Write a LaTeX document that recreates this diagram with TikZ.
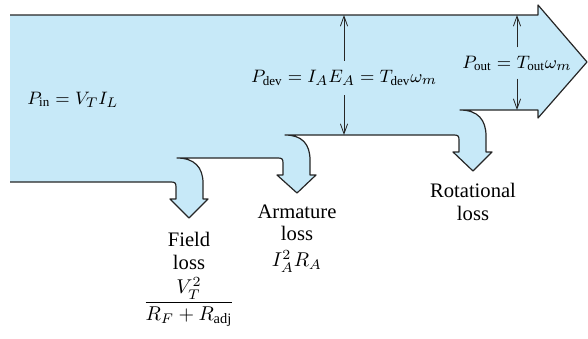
\documentclass[tikz,border=0pt]{standalone}
\usepackage{amsmath}
\usepackage{fontspec}
\setmainfont{Liberation Serif}
\usepackage{tikz}
\usetikzlibrary{arrows.meta,positioning}
\definecolor{cband}{HTML}{C7E9F8}
\definecolor{cline}{HTML}{262626}
\tikzset{
  band/.style={draw=cline, line width=0.6pt, line join=round},
  dimarr/.style={-{Straight Barb[length=5pt,width=3.6pt]}, line width=0.4pt, draw=cline},
  lbl/.style={align=center, inner sep=0pt, font=\fontsize{10.3}{11.2}\selectfont},
  eqn/.style={inner xsep=2pt, inner ysep=4.5pt, font=\fontsize{9.3}{11}\selectfont},
}
% outline of the power band (pixel units, y down)
\newcommand{\bandpath}{(10,15) -- (538,15) -- (538,5) -- (587,62) -- (538,118) -- (538,110)
  -- (460,110) .. controls (478,110) and (486,120) .. (486,136) -- (486,152)
  -- (492,152) -- (473,171) -- (453,152) -- (459,152) -- (459,140)
  .. controls (459,136) and (458,135) .. (454,135)
  -- (285,135) .. controls (302,135) and (310,144) .. (310,160) -- (310,175)
  -- (316,175) -- (297,193) -- (277,175) -- (283,175) -- (283,163)
  .. controls (283,159) and (282,158) .. (278,158)
  -- (177,158) .. controls (194,158) and (203,167) .. (203,183) -- (203,199)
  -- (208,199) -- (189,218) -- (170,199) -- (176,199) -- (176,187)
  .. controls (176,183) and (175,182) .. (171,182) -- (10,182)}

\begin{document}
\begin{tikzpicture}[x=0.5pt, y=-0.5pt]
  \useasboundingbox (0,0) rectangle (588,338);
  % power band
  \fill[cband] \bandpath -- cycle;
  \draw[band] \bandpath;
  % tips of the loss arrows
  \coordinate (ftip) at (189,218);
  \coordinate (atip) at (297,193);
  \coordinate (rtip) at (473,171);
  % ends of the dimension arrows
  \coordinate (devtop) at (344,15);
  \coordinate (devbot) at (344,135);
  \coordinate (outtop) at (517,15);
  \coordinate (outbot) at (517,110);

  \node[eqn, anchor=west] (pin) at (23,100) {$P_{\mathrm{in}} = V_T I_L$};
  \node[eqn] (pdev) at (344,78) {$P_{\mathrm{dev}} = I_A E_A = T_{\mathrm{dev}}\omega_m$};
  \node[eqn, inner ysep=4pt] (pout) at (517,63) {$P_{\mathrm{out}} = T_{\mathrm{out}}\omega_m$};

  \node[lbl, below=7pt of ftip] (field) {Field\\loss\\[3pt] $\dfrac{V_T^2}{R_F + R_{\mathrm{adj}}}$};
  \node[lbl, below=5.5pt of atip] (arm) {Armature\\loss\\[2pt] $I_A^2R_A$};
  \node[lbl, below=6pt of rtip] (rot) {Rotational\\loss};

  \draw[dimarr] (pdev) -- (devtop);
  \draw[dimarr] (pdev) -- (devbot);
  \draw[dimarr] (pout) -- (outtop);
  \draw[dimarr] (pout) -- (outbot);
\end{tikzpicture}
\end{document}
